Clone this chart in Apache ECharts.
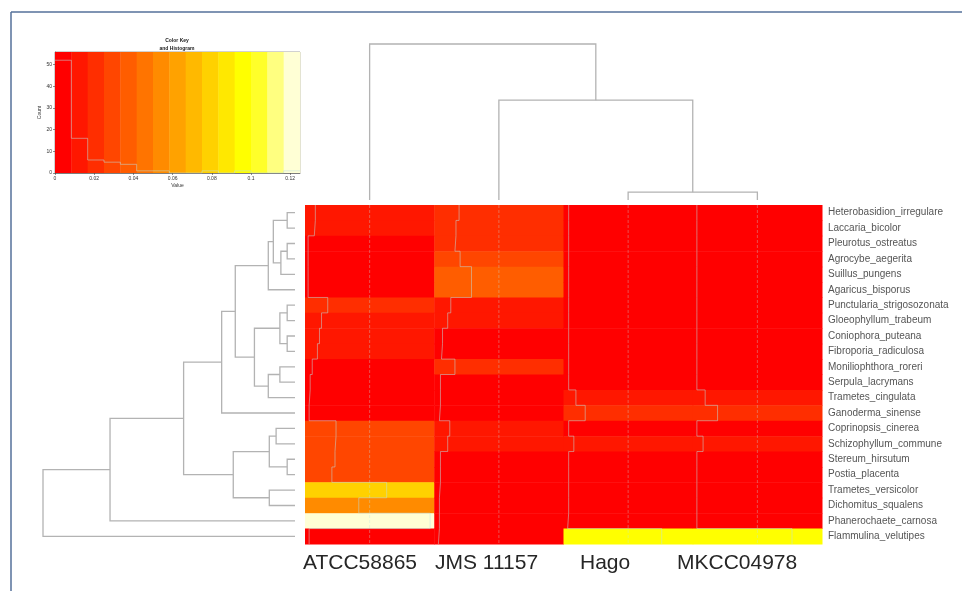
<!DOCTYPE html>
<html>
<head>
<meta charset="utf-8">
<title>heatmap</title>
<script src="https://cdn.jsdelivr.net/npm/echarts@6/dist/echarts.min.js"></script>
<style>
html,body{margin:0;padding:0;background:#fff;}
#main{width:962px;height:591px;}
</style>
</head>
<body>
<div id="main"></div>
<script>
// rows top to bottom, as in the figure
var rowNames = ['Heterobasidion_irregulare', 'Laccaria_bicolor', 'Pleurotus_ostreatus', 'Agrocybe_aegerita',
  'Suillus_pungens', 'Agaricus_bisporus', 'Punctularia_strigosozonata', 'Gloeophyllum_trabeum',
  'Coniophora_puteana', 'Fibroporia_radiculosa', 'Moniliophthora_roreri', 'Serpula_lacrymans',
  'Trametes_cingulata', 'Ganoderma_sinense', 'Coprinopsis_cinerea', 'Schizophyllum_commune',
  'Stereum_hirsutum', 'Postia_placenta', 'Trametes_versicolor', 'Dichomitus_squalens',
  'Phanerochaete_carnosa', 'Flammulina_velutipes'];
var colNames = ['ATCC58865', 'JMS 11157', 'Hago', 'MKCC04978'];

// cell values per column (top to bottom)
var atcc = [0.010, 0.009, 0.003, 0.003, 0.003, 0.003, 0.022, 0.016, 0.014, 0.012, 0.007,
  0.005, 0.004, 0.004, 0.030, 0.029, 0.029, 0.026, 0.079, 0.052, 0.121, 0.004];
var jms = [0.024, 0.021, 0.020, 0.025, 0.036, 0.036, 0.016, 0.013, 0.008, 0.007, 0.020,
  0.006, 0.006, 0.005, 0.015, 0.013, 0.006, 0.006, 0.005, 0.005, 0.005, 0.004];
var hago = [0.005, 0.005, 0.005, 0.005, 0.005, 0.005, 0.005, 0.005, 0.005, 0.005, 0.005,
  0.005, 0.012, 0.021, 0.005, 0.010, 0.005, 0.005, 0.005, 0.005, 0.004, 0.095];
var mkcc = [0.004, 0.004, 0.004, 0.004, 0.004, 0.004, 0.004, 0.004, 0.004, 0.004, 0.004,
  0.004, 0.012, 0.024, 0.004, 0.010, 0.004, 0.004, 0.004, 0.004, 0.004, 0.096];

// colour key: heat.colors(15) over 0 .. keyMax
var keyMax = 0.125;
var keyColors = ['#FF0000', '#FF1700', '#FF2E00', '#FF4600', '#FF5D00', '#FF7400', '#FF8B00', '#FFA200',
  '#FFB900', '#FFD100', '#FFE800', '#FFFF00', '#FFFF2A', '#FFFF80', '#FFFFD5'];
var histCounts = [52, 16, 6, 5, 4, 1, 1, 0, 0, 1, 0, 1, 0, 0, 1];
var countMax = 55.8;

// dendrograms, hclust style merges (negative = leaf in display order)
var rowMerge = [[-1, -2], [-3, -4], [-5, 2], [1, 3], [-6, 4], [-7, -8], [-9, -10], [6, 7], [-11, -12],
  [-13, 9], [8, 10], [5, 11], [-14, 12], [-15, -16], [-17, -18], [14, 15], [-19, -20], [16, 17],
  [13, 18], [-21, 19], [-22, 20]];
var rowHeight = [0.031, 0.031, 0.056, 0.086, 0.106, 0.031, 0.031, 0.060, 0.060, 0.106, 0.161,
  0.237, 0.291, 0.075, 0.031, 0.102, 0.102, 0.245, 0.442, 0.734, 1.0];
var colMerge = [[-3, -4], [-2, 1], [-1, 2]];
var colHeight = [0.05, 0.64, 1.0];

var lineGray = '#b3b3b3';
var traceCol = 'rgba(190,225,225,0.5)';

var breaks = [];
for (var i = 0; i <= keyColors.length; i++) breaks.push(i * keyMax / keyColors.length);

var colorOf = function (v) {
  var k = Math.floor(v / keyMax * keyColors.length);
  if (k < 0) k = 0;
  if (k > keyColors.length - 1) k = keyColors.length - 1;
  return keyColors[k];
};

var dendroData = function (merge, height) {
  var pos = [], out = [];
  for (var i = 0; i < merge.length; i++) {
    var a = merge[i][0], b = merge[i][1];
    var pa = a < 0 ? -a - 0.5 : pos[a - 1], ha = a < 0 ? 0 : height[a - 1];
    var pb = b < 0 ? -b - 0.5 : pos[b - 1], hb = b < 0 ? 0 : height[b - 1];
    pos.push((pa + pb) / 2);
    out.push([ha, pa, height[i], pb, hb]);
  }
  return out;
};

var dendroItem = function (flip) {
  return function (params, api) {
    var pts = [[api.value(0), api.value(1)], [api.value(2), api.value(1)],
      [api.value(2), api.value(3)], [api.value(4), api.value(3)]];
    var px = pts.map(function (p) { return api.coord(flip ? [p[1], p[0]] : p); });
    return {type: 'polyline', shape: {points: px}, style: {stroke: lineGray, lineWidth: 1.3, fill: 'none'}};
  };
};

var columns = [atcc, jms, hago, mkcc];
var cells = [];
columns.forEach(function (col, c) {
  col.forEach(function (v, r) { cells.push([c, r, v]); });
});

// trace lines (heatmap.2 trace = "column")
var traceSeries = [];
columns.forEach(function (col, c) {
  var pts = [];
  col.forEach(function (v, r) {
    var x = c + v / keyMax;
    pts.push([x, r], [x, r + 1]);
  });
  traceSeries.push({
    type: 'line', xAxisIndex: 3, yAxisIndex: 3, data: pts, symbol: 'none', silent: true,
    lineStyle: {color: traceCol, width: 1}, z: 5
  });
  traceSeries.push({
    type: 'line', xAxisIndex: 3, yAxisIndex: 3, data: [[c + 0.5, 0], [c + 0.5, rowNames.length]],
    symbol: 'none', silent: true, lineStyle: {color: 'rgba(190,225,225,0.35)', width: 1, type: [3, 2]}, z: 5
  });
});

var histLine = [];
histCounts.forEach(function (n, k) { histLine.push([breaks[k], n], [breaks[k + 1], n]); });

var tiny = {fontSize: 5, color: '#333', fontFamily: 'Liberation Sans'};
var hidden = {show: false};

var chart = echarts.init(document.getElementById('main'));
chart.setOption({
  animation: false,
  backgroundColor: '#fff',
  grid: [
    {left: 55, top: 52, width: 245, height: 121, show: true, borderColor: '#666', borderWidth: 0.6, outerBoundsMode: 'none'},
    {left: 305, top: 44, width: 517, height: 156, outerBoundsMode: 'none'},
    {left: 43, top: 205, width: 252, height: 339, outerBoundsMode: 'none'},
    {left: 305, top: 205, width: 517, height: 339, outerBoundsMode: 'none'}
  ],
  xAxis: [
    {gridIndex: 0, type: 'value', min: 0, max: keyMax, interval: 0.02, splitLine: hidden,
      axisLine: {show: true, onZero: false, lineStyle: {color: '#444', width: 0.6}},
      axisTick: {show: true, length: 2, lineStyle: {color: '#444', width: 0.6}},
      axisLabel: {showMaxLabel: false, margin: 3, fontSize: 5, color: '#333', fontFamily: 'Liberation Sans'},
      name: 'Value', nameLocation: 'middle', nameGap: 10, nameTextStyle: tiny},
    {gridIndex: 1, type: 'value', min: 0, max: colNames.length, show: false},
    {gridIndex: 2, type: 'value', min: 0, max: 1, inverse: true, show: false},
    {gridIndex: 3, type: 'value', min: 0, max: colNames.length, show: false}
  ],
  yAxis: [
    {gridIndex: 0, type: 'value', min: 0, max: countMax, interval: 10, splitLine: hidden,
      axisLine: {show: true, lineStyle: {color: '#444', width: 0.6}},
      axisTick: {show: true, length: 2, lineStyle: {color: '#444', width: 0.6}},
      axisLabel: {showMaxLabel: false, margin: 3, fontSize: 5, color: '#333', fontFamily: 'Liberation Sans'},
      name: 'Count', nameLocation: 'middle', nameGap: 9, nameTextStyle: tiny},
    {gridIndex: 1, type: 'value', min: 0, max: 1, show: false},
    {gridIndex: 2, type: 'value', min: 0, max: rowNames.length, inverse: true, show: false},
    {gridIndex: 3, type: 'value', min: 0, max: rowNames.length, inverse: true, show: false},
    {gridIndex: 3, type: 'category', data: rowNames, inverse: true, position: 'right',
      axisLine: hidden, axisTick: hidden, splitLine: hidden,
      axisLabel: {margin: 6, fontSize: 10, color: '#555', fontFamily: 'Liberation Sans', interval: 0}}
  ],
  series: [
    {
      // colour key bands
      type: 'custom', xAxisIndex: 0, yAxisIndex: 0, silent: true,
      data: keyColors.map(function (c, k) { return [breaks[k], breaks[k + 1], k]; }),
      renderItem: function (params, api) {
        var p0 = api.coord([api.value(0), countMax]);
        var p1 = api.coord([api.value(1), 0]);
        return {type: 'rect', shape: {x: p0[0], y: p0[1], width: p1[0] - p0[0] + 0.4, height: p1[1] - p0[1]},
          style: {fill: keyColors[api.value(2)]}};
      }
    },
    {
      type: 'line', xAxisIndex: 0, yAxisIndex: 0, data: histLine, symbol: 'none', silent: true,
      lineStyle: {color: traceCol, width: 1}, z: 5
    },
    {
      type: 'custom', xAxisIndex: 1, yAxisIndex: 1, silent: true,
      data: dendroData(colMerge, colHeight), renderItem: dendroItem(true)
    },
    {
      type: 'custom', xAxisIndex: 2, yAxisIndex: 2, silent: true,
      data: dendroData(rowMerge, rowHeight), renderItem: dendroItem(false)
    },
    {
      // heatmap cells
      type: 'custom', xAxisIndex: 3, yAxisIndex: 3, silent: true, data: cells,
      renderItem: function (params, api) {
        var p0 = api.coord([api.value(0), api.value(1)]);
        var p1 = api.coord([api.value(0) + 1, api.value(1) + 1]);
        return {type: 'rect', shape: {x: p0[0], y: p0[1], width: p1[0] - p0[0] + 0.5, height: p1[1] - p0[1] + 0.5},
          style: {fill: colorOf(api.value(2))}};
      }
    }
  ].concat(traceSeries),
  graphic: [
    {type: 'line', shape: {x1: 11, y1: 12, x2: 962, y2: 12}, style: {stroke: '#55709a', lineWidth: 1.5}},
    {type: 'line', shape: {x1: 11, y1: 12, x2: 11, y2: 591}, style: {stroke: '#55709a', lineWidth: 1.5}},
    {type: 'text', x: 177, y: 37, style: {text: 'Color Key\nand Histogram', textAlign: 'center', fontSize: 5,
      lineHeight: 8, fontWeight: 'bold', fill: '#222', fontFamily: 'Liberation Sans'}},
    {type: 'text', x: 303, y: 553, style: {text: colNames[0], fontSize: 21, fill: '#262626', fontFamily: 'Liberation Sans'}},
    {type: 'text', x: 435, y: 553, style: {text: colNames[1], fontSize: 21, fill: '#262626', fontFamily: 'Liberation Sans'}},
    {type: 'text', x: 580, y: 553, style: {text: colNames[2], fontSize: 21, fill: '#262626', fontFamily: 'Liberation Sans'}},
    {type: 'text', x: 677, y: 553, style: {text: colNames[3], fontSize: 21, fill: '#262626', fontFamily: 'Liberation Sans'}}
  ]
});
</script>
</body>
</html>
